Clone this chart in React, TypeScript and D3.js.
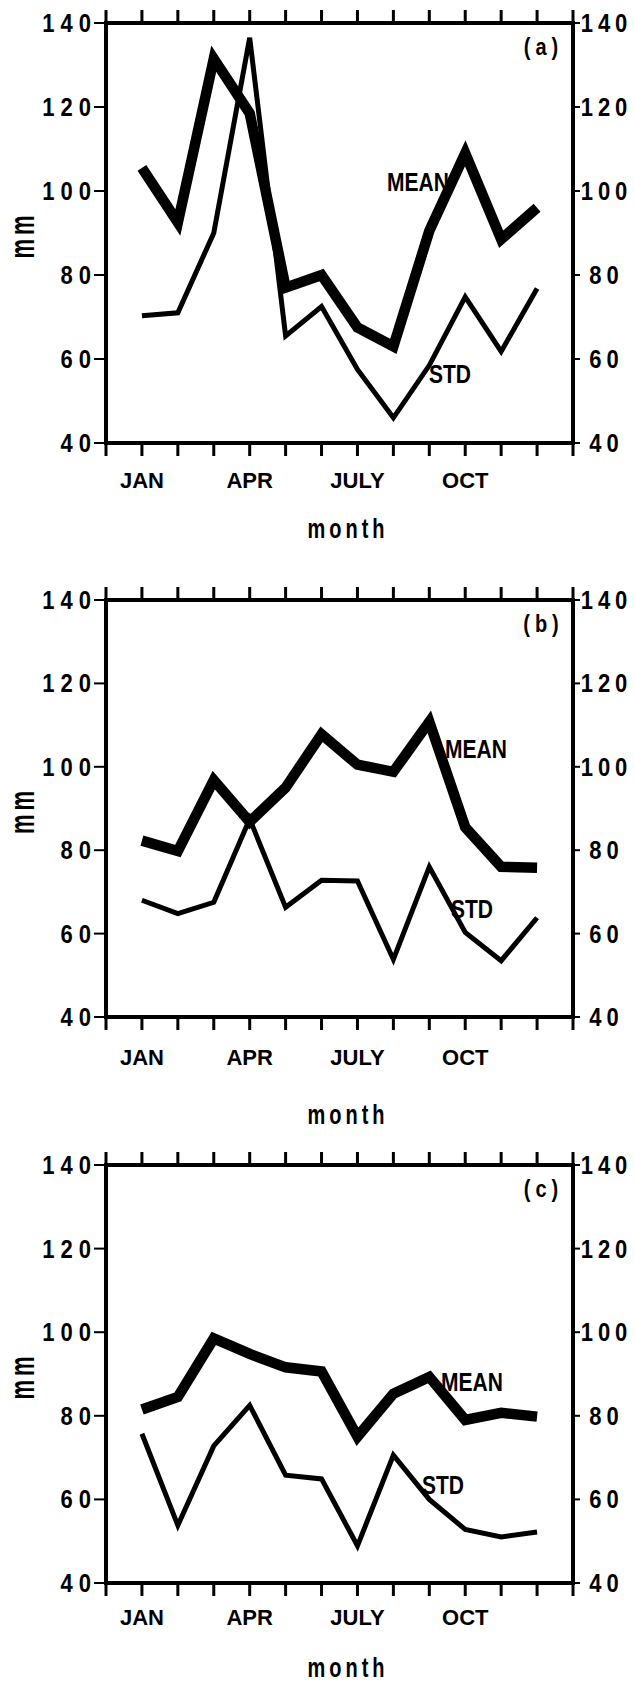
import * as d3 from 'd3'

// monthly values, Jan..Dec (mm)
const MEAN_A = [105.5, 92.5, 131.5, 118.5, 77, 80, 67.5, 63, 90.5, 109, 88.5, 96]
const STD_A = [70.3, 71, 90, 136.5, 65.5, 72.5, 57.5, 46, 58.5, 74.8, 61.8, 76.8]
const MEAN_B = [82.3, 79.8, 96.8, 86.8, 95, 107.8, 100.5, 98.8, 110.8, 85.5, 76, 75.8]
const STD_B = [68, 64.8, 67.5, 87.5, 66.3, 72.8, 72.6, 53.8, 76, 60.3, 53.5, 63.8]
const MEAN_C = [81.5, 84.5, 98.5, 94.8, 91.6, 90.6, 75, 85.3, 89.3, 79, 80.7, 79.8]
const STD_C = [75.7, 53.8, 72.8, 82.5, 65.8, 64.9, 48.9, 70.6, 60, 52.8, 51, 52.2]

const MONTHS = [1, 2, 3, 4, 5, 6, 7, 8, 9, 10, 11, 12]
const LABEL_MONTHS = [1, 4, 7, 10]
const LABEL_TEXT = ['JAN', 'APR', 'JULY', 'OCT']
const Y_TICKS = [40, 60, 80, 100, 120, 140]

const W = 635
const H = 1685
const LEFT = 106
const RIGHT = 573
const FONT = '"Liberation Sans", Arial, Helvetica, sans-serif'

const PANELS = [
  { tag: '(a)', mean: MEAN_A, std: STD_A, top: 23, bottom: 443, tickBase: 488, monthBase: 538, meanPos: [387, 191], stdPos: [429, 383] },
  { tag: '(b)', mean: MEAN_B, std: STD_B, top: 600, bottom: 1017, tickBase: 1065, monthBase: 1124, meanPos: [445, 758], stdPos: [451, 918] },
  { tag: '(c)', mean: MEAN_C, std: STD_C, top: 1165, bottom: 1583, tickBase: 1625, monthBase: 1677, meanPos: [441, 1391], stdPos: [422, 1494] },
]

type TxtProps = {
  x: number; y: number; text: string; size: number
  sy?: number; ls?: number; anchor?: 'start' | 'middle' | 'end'; rotate?: number
}

function Txt({ x, y, text, size, sy = 1, ls = 0, anchor = 'start', rotate = 0 }: TxtProps) {
  // trailing letter-spacing shifts anchored text, push it back
  const shift = anchor === 'end' ? ls : anchor === 'middle' ? ls / 2 : 0
  return (
    <text
      transform={`translate(${x},${y}) rotate(${rotate}) scale(1,${sy})`}
      x={shift}
      fontFamily={FONT}
      fontWeight="bold"
      fontSize={size}
      letterSpacing={ls}
      textAnchor={anchor}
      fill="#000"
    >
      {text}
    </text>
  )
}

function Panel({ p }: { p: typeof PANELS[number] }) {
  const x = d3.scaleLinear().domain([0, 13]).range([LEFT, RIGHT])
  const y = d3.scaleLinear().domain([40, 140]).range([p.bottom, p.top])
  const line = d3.line<number>().x((_, i) => x(MONTHS[i])).y(d => y(d))
  const ticks = d3.range(0, 14)
  const mid = (p.top + p.bottom) / 2

  return (
    <g>
      {/* series labels sit under the lines */}
      <Txt x={p.meanPos[0]} y={p.meanPos[1]} text="MEAN" size={21} sy={1.25} />
      <Txt x={p.stdPos[0]} y={p.stdPos[1]} text="STD" size={21} sy={1.25} />
      <Txt x={541} y={p.top + 32} text={p.tag} size={20} sy={1.2} ls={5} anchor="middle" />

      <path d={line(p.std) ?? ''} fill="none" stroke="#000" strokeWidth={5} strokeLinejoin="miter" />
      <path d={line(p.mean) ?? ''} fill="none" stroke="#000" strokeWidth={10.5} strokeLinejoin="miter" />

      <rect x={LEFT} y={p.top} width={RIGHT - LEFT} height={p.bottom - p.top} fill="none" stroke="#000" strokeWidth={4} />

      {ticks.map(t => (
        <g key={t}>
          <line x1={x(t)} x2={x(t)} y1={p.top - 13} y2={p.top} stroke="#000" strokeWidth={3} />
          <line x1={x(t)} x2={x(t)} y1={p.bottom} y2={p.bottom + 13} stroke="#000" strokeWidth={3} />
        </g>
      ))}

      {Y_TICKS.map(v => (
        <g key={v}>
          <line x1={LEFT - 12} x2={LEFT} y1={y(v)} y2={y(v)} stroke="#000" strokeWidth={2} />
          <line x1={RIGHT} x2={RIGHT + 7} y1={y(v)} y2={y(v)} stroke="#000" strokeWidth={2} />
          <Txt x={91} y={y(v) + 9} text={String(v)} size={22} sy={1.15} ls={6} anchor="end" />
          <Txt x={604} y={y(v) + 9} text={String(v)} size={22} sy={1.15} ls={5} anchor="middle" />
        </g>
      ))}

      {LABEL_MONTHS.map((m, i) => (
        <Txt key={m} x={x(m)} y={p.tickBase} text={LABEL_TEXT[i]} size={22} sy={1.03} anchor="middle" />
      ))}

      <Txt x={346} y={p.monthBase} text="month" size={20} sy={1.35} ls={4} anchor="middle" />
      <Txt x={34} y={mid + 4} text="mm" size={22} sy={1.6} ls={4} anchor="middle" rotate={-90} />
    </g>
  )
}

export default function App() {
  return (
    <svg width={W} height={H} style={{ position: 'absolute', left: 0, top: 0, background: '#fff' }}>
      <rect width={W} height={H} fill="#fff" />
      {PANELS.map(p => (
        <Panel key={p.tag} p={p} />
      ))}
    </svg>
  )
}
